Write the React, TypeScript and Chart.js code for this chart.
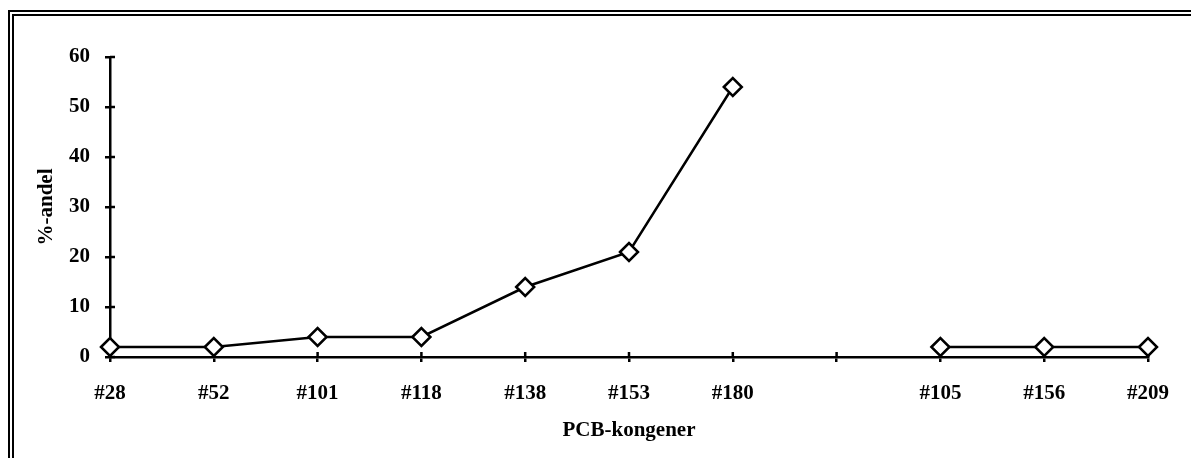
import React, { useEffect, useRef } from "react";
import { Chart, registerables } from "chart.js";

Chart.register(...registerables);

const categories: string[] = ["#28", "#52", "#101", "#118", "#138", "#153", "#180", "", "#105", "#156", "#209"];
const shareValues: (number | null)[] = [2, 2, 4, 4, 14, 21, 54, null, 2, 2, 2];
const yTickValues: number[] = [0, 10, 20, 30, 40, 50, 60];
const xTitle = "PCB-kongener";
const yTitle = "%-andel";

const FONT = "'Liberation Serif', 'Times New Roman', serif";

const frameAndTicks = {
  id: "frameAndTicks",
  beforeDraw(chart: any) {
    const ctx = chart.ctx;
    ctx.save();
    ctx.fillStyle = "#fff";
    ctx.fillRect(0, 0, chart.width, chart.height);
    ctx.strokeStyle = "#000";
    ctx.lineWidth = 2;
    ctx.beginPath();
    ctx.moveTo(9, chart.height + 5);
    ctx.lineTo(9, 11);
    ctx.lineTo(chart.width + 5, 11);
    ctx.moveTo(13, chart.height + 5);
    ctx.lineTo(13, 15);
    ctx.lineTo(chart.width + 5, 15);
    ctx.stroke();
    ctx.restore();
  },
  beforeDatasetsDraw(chart: any) {
    const ctx = chart.ctx;
    const xs = chart.scales.x;
    const ys = chart.scales.y;
    ctx.save();
    ctx.strokeStyle = "#000";
    ctx.lineWidth = 2.5;
    ctx.beginPath();
    const axisY = ys.getPixelForValue(0);
    xs.ticks.forEach((_t: any, i: number) => {
      const px = xs.getPixelForTick(i);
      ctx.moveTo(px, axisY);
      ctx.lineTo(px, axisY - 5);
    });
    const axisX = xs.left;
    ys.ticks.forEach((_t: any, i: number) => {
      const py = ys.getPixelForTick(i);
      ctx.moveTo(axisX, py);
      ctx.lineTo(axisX + 5, py);
    });
    ctx.stroke();
    ctx.restore();
  },
};

export default function App() {
  const ref = useRef<HTMLCanvasElement | null>(null);
  useEffect(() => {
    document.body.style.overflow = "hidden";
    document.documentElement.style.overflow = "hidden";
    const canvas = ref.current!;
    const chart = new Chart(canvas, {
      type: "line",
      data: {
        labels: categories,
        datasets: [
          {
            data: shareValues,
            borderColor: "#000",
            borderWidth: 2.5,
            pointStyle: "rectRot",
            pointRadius: 9,
            pointBorderWidth: 2.5,
            pointBackgroundColor: "#fff",
            pointBorderColor: "#000",
            spanGaps: false,
            tension: 0,
          },
        ],
      },
      options: {
        animation: false,
        responsive: false,
        devicePixelRatio: 1,
        layout: { padding: { top: 57, right: 43, bottom: 0, left: 0 } },
        plugins: { legend: { display: false }, tooltip: { enabled: false } },
        scales: {
          x: {
            type: "category",
            offset: false,
            afterFit(scale: any) {
              scale.height = 101;
            },
            border: { color: "#000", width: 2.5 },
            grid: { drawOnChartArea: false, tickLength: 5, color: "#000", lineWidth: 2.5 },
            ticks: {
              color: "#000",
              padding: 19,
              autoSkip: false,
              maxRotation: 0,
              font: { family: FONT, size: 21, weight: "bold" },
            },
            title: {
              display: true,
              text: xTitle,
              color: "#000",
              padding: { top: 0, bottom: 15 },
              font: { family: FONT, size: 21, weight: "bold" },
            },
          },
          y: {
            min: 0,
            max: 60,
            afterFit(scale: any) {
              scale.width = 110;
            },
            afterBuildTicks(scale: any) {
              scale.ticks = yTickValues.map((v) => ({ value: v }));
            },
            border: { color: "#000", width: 2.5 },
            grid: { drawOnChartArea: false, tickLength: 5, color: "#000", lineWidth: 2.5 },
            ticks: {
              color: "#000",
              padding: 15,
              font: { family: FONT, size: 21, weight: "bold" },
            },
            title: {
              display: true,
              text: yTitle,
              color: "#000",
              padding: { top: 34, bottom: 0 },
              font: { family: FONT, size: 21, weight: "bold" },
            },
          },
        },
      },
      plugins: [frameAndTicks],
    } as any);
    return () => chart.destroy();
  }, []);
  return (
    <canvas
      ref={ref}
      width={1191}
      height={458}
      style={{ position: "fixed", left: 0, top: 0, width: 1191, height: 458 }}
    />
  );
}
